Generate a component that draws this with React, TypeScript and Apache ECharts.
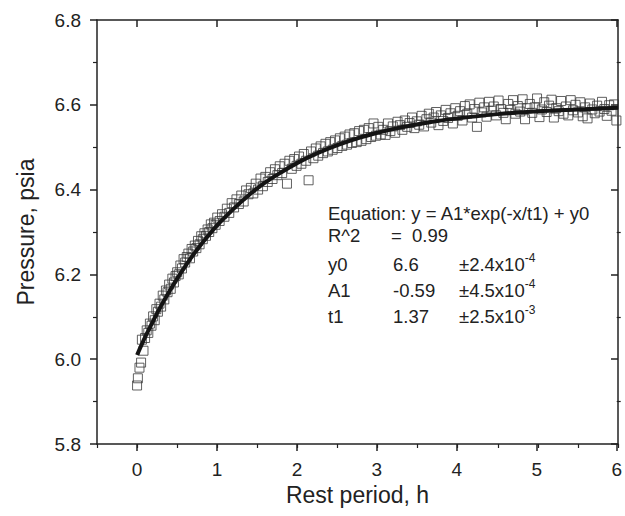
import React, { useEffect, useRef } from "react";
import * as echarts from "echarts";

// Measured data: rest period (h) vs pressure (psia)
const timeH = [
  0.00, 0.01, 0.03, 0.05, 0.06, 0.08, 0.10, 0.12, 0.14, 0.16, 0.18, 0.20, 0.22, 0.24, 0.26, 0.28, 0.30, 0.32, 0.34, 0.36,
  0.38, 0.40, 0.42, 0.44, 0.46, 0.48, 0.50, 0.52, 0.54, 0.56, 0.58, 0.60, 0.62, 0.64, 0.66, 0.68, 0.70, 0.72, 0.74, 0.76,
  0.78, 0.80, 0.82, 0.84, 0.86, 0.88, 0.90, 0.92, 0.94, 0.96, 0.98, 1.00, 1.03, 1.06, 1.09, 1.12, 1.15, 1.18, 1.21, 1.24,
  1.27, 1.30, 1.33, 1.36, 1.39, 1.42, 1.45, 1.48, 1.51, 1.54, 1.57, 1.60, 1.63, 1.66, 1.69, 1.72, 1.75, 1.78, 1.81, 1.84,
  1.87, 1.90, 1.93, 1.96, 1.99, 2.02, 2.05, 2.08, 2.11, 2.14, 2.17, 2.20, 2.23, 2.26, 2.29, 2.32, 2.35, 2.38, 2.41, 2.44,
  2.47, 2.50, 2.53, 2.56, 2.59, 2.62, 2.65, 2.68, 2.71, 2.74, 2.77, 2.80, 2.83, 2.86, 2.89, 2.92, 2.95, 2.98, 3.01, 3.04,
  3.07, 3.10, 3.13, 3.16, 3.19, 3.22, 3.25, 3.28, 3.31, 3.34, 3.37, 3.40, 3.43, 3.46, 3.49, 3.52, 3.55, 3.58, 3.61, 3.64,
  3.67, 3.70, 3.73, 3.76, 3.79, 3.82, 3.85, 3.88, 3.91, 3.94, 3.97, 4.00, 4.03, 4.06, 4.09, 4.12, 4.15, 4.18, 4.21, 4.24,
  4.27, 4.30, 4.33, 4.36, 4.39, 4.42, 4.45, 4.48, 4.51, 4.54, 4.57, 4.60, 4.63, 4.66, 4.69, 4.72, 4.75, 4.78, 4.81, 4.84,
  4.87, 4.90, 4.93, 4.96, 4.99, 5.02, 5.05, 5.08, 5.11, 5.14, 5.17, 5.20, 5.23, 5.26, 5.29, 5.32, 5.35, 5.38, 5.41, 5.44,
  5.47, 5.50, 5.53, 5.56, 5.59, 5.62, 5.65, 5.68, 5.71, 5.74, 5.77, 5.80, 5.83, 5.86, 5.89, 5.92, 5.95, 5.98,
];

const pressure = [
  5.938, 5.955, 5.980, 5.992, 6.046, 6.020, 6.050, 6.068, 6.062, 6.084, 6.079, 6.101, 6.092, 6.118, 6.112, 6.131, 6.124, 6.150, 6.141, 6.162,
  6.158, 6.176, 6.166, 6.190, 6.181, 6.196, 6.205, 6.200, 6.221, 6.214, 6.236, 6.228, 6.241, 6.249, 6.238, 6.260, 6.254, 6.268, 6.262, 6.279,
  6.271, 6.290, 6.283, 6.297, 6.291, 6.306, 6.300, 6.318, 6.309, 6.322, 6.317, 6.334, 6.326, 6.342, 6.336, 6.355, 6.345, 6.368, 6.358, 6.377,
  6.366, 6.386, 6.372, 6.398, 6.389, 6.404, 6.391, 6.414, 6.400, 6.426, 6.408, 6.430, 6.418, 6.441, 6.425, 6.448, 6.434, 6.455, 6.439, 6.461,
  6.414, 6.468, 6.449, 6.472, 6.456, 6.478, 6.461, 6.484, 6.468, 6.422, 6.490, 6.474, 6.497, 6.480, 6.502, 6.486, 6.508, 6.490, 6.512, 6.494,
  6.516, 6.498, 6.521, 6.503, 6.525, 6.506, 6.530, 6.510, 6.533, 6.512, 6.538, 6.515, 6.541, 6.519, 6.545, 6.524, 6.556, 6.527, 6.548, 6.530,
  6.541, 6.529, 6.556, 6.538, 6.549, 6.534, 6.560, 6.552, 6.541, 6.563, 6.548, 6.557, 6.570, 6.545, 6.561, 6.553, 6.574, 6.549, 6.566, 6.579,
  6.558, 6.570, 6.583, 6.552, 6.575, 6.562, 6.588, 6.569, 6.580, 6.556, 6.592, 6.574, 6.585, 6.563, 6.597, 6.579, 6.601, 6.570, 6.590, 6.548,
  6.605, 6.582, 6.594, 6.572, 6.607, 6.586, 6.596, 6.575, 6.610, 6.590, 6.581, 6.566, 6.602, 6.588, 6.611, 6.579, 6.597, 6.584, 6.613, 6.566,
  6.592, 6.602, 6.581, 6.594, 6.615, 6.571, 6.589, 6.606, 6.583, 6.598, 6.612, 6.570, 6.592, 6.585, 6.609, 6.579, 6.596, 6.575, 6.611, 6.587,
  6.600, 6.582, 6.606, 6.573, 6.594, 6.568, 6.603, 6.589, 6.580, 6.598, 6.584, 6.607, 6.590, 6.574, 6.599, 6.586, 6.601, 6.563,
];

// Fitted curve
const fitX = [0.0, 0.1, 0.2, 0.3, 0.4, 0.5, 0.6, 0.7, 0.8, 0.9, 1.0, 1.2, 1.4, 1.6, 1.8, 2.0, 2.25, 2.5, 2.75, 3.0, 3.25, 3.5, 3.75, 4.0, 4.5, 5.0, 5.5, 6.0];
const fitY = [6.010, 6.052, 6.090, 6.126, 6.159, 6.190, 6.219, 6.246, 6.271, 6.294, 6.316, 6.354, 6.388, 6.417, 6.441, 6.463, 6.486, 6.505, 6.521, 6.534, 6.545, 6.554, 6.562, 6.568, 6.578, 6.585, 6.589, 6.593];

const xTitle = "Rest period, h";
const yTitle = "Pressure, psia";

const eqLine = "Equation: y = A1*exp(-x/t1) + y0";
const r2Label = "R^2";
const r2Value = "=  0.99";
const paramNames = ["y0", "A1", "t1"];
const paramValues = ["6.6", "-0.59", "1.37"];
const paramErrMantissa = ["±2.4x10", "±4.5x10", "±2.5x10"];
const paramErrExp = ["-4", "-4", "-3"];

const FONT = "'Liberation Sans', Arial, Helvetica, sans-serif";
const INK = "#222";

// layout
const GL = 97;
const GR = 7;
const GT = 20;
const GB = 72;
const W = 625;
const X_MIN = -0.5;
const X_MAX = 6;

export default function App() {
  const ref = useRef<HTMLDivElement>(null);

  useEffect(() => {
    if (!ref.current) return;
    const chart = echarts.init(ref.current, undefined, { renderer: "svg" });

    const points = timeH.map((t, i) => [t, pressure[i]]);
    const fit = fitX.map((t, i) => [t, fitY[i]]);

    const textStyleBase = { fontFamily: FONT, fontSize: 18.5, fill: INK };
    const rowY = [264, 290, 316];
    const graphics: any[] = [
      { type: "text", x: 328, y: 213, style: { ...textStyleBase, text: eqLine, verticalAlign: "middle" } },
      { type: "text", x: 328, y: 235, style: { ...textStyleBase, text: r2Label, verticalAlign: "middle" } },
      { type: "text", x: 391, y: 235, style: { ...textStyleBase, text: r2Value, verticalAlign: "middle" } },
    ];
    paramNames.forEach((n, i) => {
      graphics.push({ type: "text", x: 328, y: rowY[i], style: { ...textStyleBase, text: n, verticalAlign: "middle" } });
      graphics.push({ type: "text", x: 393, y: rowY[i], style: { ...textStyleBase, text: paramValues[i], verticalAlign: "middle" } });
      graphics.push({
        type: "text",
        x: 459,
        y: rowY[i],
        style: {
          text: `{m|${paramErrMantissa[i]}}{s|${paramErrExp[i]}}`,
          fontFamily: FONT,
          fill: INK,
          verticalAlign: "middle",
          rich: {
            m: { fontFamily: FONT, fontSize: 18.5, fill: INK, lineHeight: 24, verticalAlign: "middle" },
            s: { fontFamily: FONT, fontSize: 12, fill: INK, lineHeight: 24, verticalAlign: "top" },
          },
        },
      });
    });

    const lineStyle = { color: INK, width: 1.5 };
    const axisLabel = { color: INK, fontFamily: FONT, fontSize: 19 };
    // second (overlay) grid starts at x = 0 so that integer ticks come from its own scale
    const plotW = W - GL - GR;
    const gl2 = GL + (plotW * (0 - X_MIN)) / (X_MAX - X_MIN);

    chart.setOption({
      animation: false,
      backgroundColor: "#fff",
      grid: [
        { left: GL, right: GR, top: GT, bottom: GB, containLabel: false },
        { left: gl2, right: GR, top: GT, bottom: GB, containLabel: false },
      ],
      xAxis: [
        {
          gridIndex: 0,
          type: "value",
          position: "bottom",
          min: X_MIN,
          max: X_MAX,
          interval: 0.5,
          axisLine: { show: true, onZero: false, lineStyle },
          axisTick: { show: true, inside: false, length: 4, lineStyle: { color: INK, width: 1.2 } },
          splitLine: { show: false },
          axisLabel: { show: false },
          name: xTitle,
          nameLocation: "middle",
          nameGap: 39,
          nameTextStyle: { color: INK, fontFamily: FONT, fontSize: 23 },
        },
        {
          gridIndex: 0,
          type: "value",
          position: "top",
          min: X_MIN,
          max: X_MAX,
          interval: 0.5,
          axisLine: { show: true, onZero: false, lineStyle },
          axisTick: { show: false },
          axisLabel: { show: false },
          splitLine: { show: false },
        },
        {
          gridIndex: 1,
          type: "value",
          position: "bottom",
          min: 0,
          max: X_MAX,
          interval: 1,
          axisLine: { show: false, onZero: false },
          axisTick: { show: true, inside: false, length: 7, lineStyle },
          splitLine: { show: false },
          axisLabel: { ...axisLabel, margin: 16 },
        },
        {
          gridIndex: 1,
          type: "value",
          position: "top",
          min: 0,
          max: X_MAX,
          interval: 1,
          axisLine: { show: false, onZero: false },
          axisTick: { show: true, inside: true, length: 7, lineStyle },
          splitLine: { show: false },
          axisLabel: { show: false },
        },
      ],
      yAxis: [
        {
          gridIndex: 0,
          type: "value",
          position: "left",
          min: 5.8,
          max: 6.8,
          interval: 0.2,
          axisLine: { show: true, onZero: false, lineStyle },
          axisTick: { show: true, inside: false, length: 7, lineStyle },
          minorTick: { show: true, splitNumber: 2, length: 4, lineStyle: { color: INK, width: 1.2 } },
          splitLine: { show: false },
          axisLabel: { ...axisLabel, margin: 16, formatter: (v: number) => v.toFixed(1) },
          name: yTitle,
          nameLocation: "middle",
          nameGap: 60,
          nameRotate: 90,
          nameTextStyle: { color: INK, fontFamily: FONT, fontSize: 23 },
        },
        {
          gridIndex: 0,
          type: "value",
          position: "right",
          min: 5.8,
          max: 6.8,
          interval: 0.2,
          axisLine: { show: true, onZero: false, lineStyle },
          axisTick: { show: true, inside: true, length: 7, lineStyle },
          axisLabel: { show: false },
          splitLine: { show: false },
        },
        {
          gridIndex: 1,
          type: "value",
          position: "right",
          min: 5.8,
          max: 6.8,
          interval: 0.2,
          axisLine: { show: false, onZero: false },
          axisTick: { show: false },
          minorTick: { show: true, splitNumber: 2, length: 4, lineStyle: { color: INK, width: 1.2 } },
          axisLabel: { show: false },
          splitLine: { show: false },
        },
      ],
      series: [
        {
          type: "scatter",
          xAxisIndex: 0,
          yAxisIndex: 0,
          data: points,
          symbol: "rect",
          symbolSize: 9,
          itemStyle: { color: "rgba(255,255,255,0)", borderColor: "#3a3a3a", borderWidth: 1 },
          z: 2,
        },
        {
          type: "line",
          xAxisIndex: 0,
          yAxisIndex: 0,
          data: fit,
          smooth: 0.3,
          showSymbol: false,
          lineStyle: { color: "#141414", width: 4 },
          z: 3,
        },
      ],
      graphic: graphics,
    });

    return () => chart.dispose();
  }, []);

  return <div ref={ref} style={{ position: "absolute", left: 0, top: 0, width: W, height: 516 }} />;
}
